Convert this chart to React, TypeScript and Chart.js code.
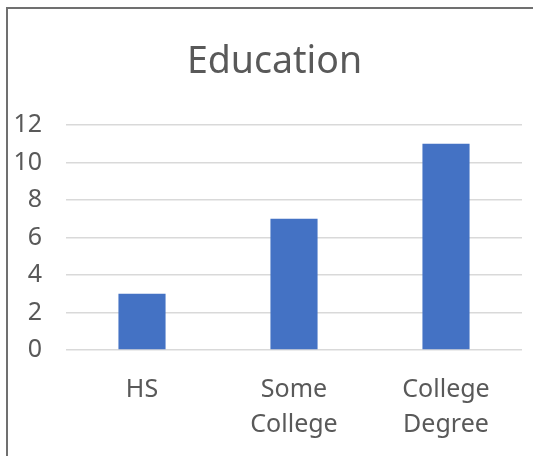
import React, { useEffect, useRef } from "react";
import { Chart, registerables } from "chart.js";

Chart.register(...registerables);

const categories: (string | string[])[] = ["HS", ["Some", "College"], ["College", "Degree"]];
const values: number[] = [3, 7, 11];
const titleText = "Education";

const titlePlugin = {
  id: "boxTitle",
  afterDraw(chart: any) {
    const ctx = chart.ctx;
    ctx.save();
    ctx.fillStyle = "#595959";
    ctx.font = "37.5px 'Noto Sans'";
    ctx.textAlign = "center";
    ctx.textBaseline = "alphabetic";
    ctx.fillText(titleText, 274.5, 73);
    ctx.restore();
  },
};

export default function App() {
  const ref = useRef<HTMLCanvasElement | null>(null);
  useEffect(() => {
    if (!ref.current) return;
    const chart = new Chart(ref.current, {
      type: "bar",
      data: {
        labels: categories,
        datasets: [
          {
            data: values,
            backgroundColor: "#4472C4",
            borderWidth: 0,
            categoryPercentage: 1,
            barPercentage: 0.31,
          },
        ],
      },
      plugins: [titlePlugin],
      options: {
        animation: false,
        responsive: false,
        devicePixelRatio: 1,
        layout: { padding: { left: 0, right: 11, top: 125, bottom: 0 } },
        plugins: {
          legend: { display: false },
          tooltip: { enabled: false },
          title: { display: false },
        },
        scales: {
          x: {
            grid: { display: false },
            border: { display: false },
            ticks: {
              color: "#595959",
              font: { family: "Noto Sans", size: 25, lineHeight: 1.4 },
              padding: 14,
              maxRotation: 0,
            },
            afterFit: (s: any) => {
              s.height = 106;
            },
          },
          y: {
            min: 0,
            max: 12,
            grid: { color: "#D9D9D9", lineWidth: 1.5, drawTicks: false },
            border: { display: false },
            ticks: {
              stepSize: 2,
              color: "#595959",
              font: { family: "Noto Sans", size: 25 },
              padding: 24,
            },
            afterFit: (s: any) => {
              s.width = 66;
            },
          },
        },
      },
    });
    return () => chart.destroy();
  }, []);
  return (
    <div style={{ position: "fixed", left: 0, top: 0, width: 533, height: 456, background: "#fff", overflow: "hidden" }}>
      <div
        style={{
          position: "absolute",
          left: 6,
          top: 7,
          width: 600,
          height: 600,
          borderTop: "2px solid #707070",
          borderLeft: "2px solid #707070",
        }}
      />
      <canvas ref={ref} width={533} height={456} style={{ position: "absolute", left: 0, top: 0, width: 533, height: 456 }} />
    </div>
  );
}
